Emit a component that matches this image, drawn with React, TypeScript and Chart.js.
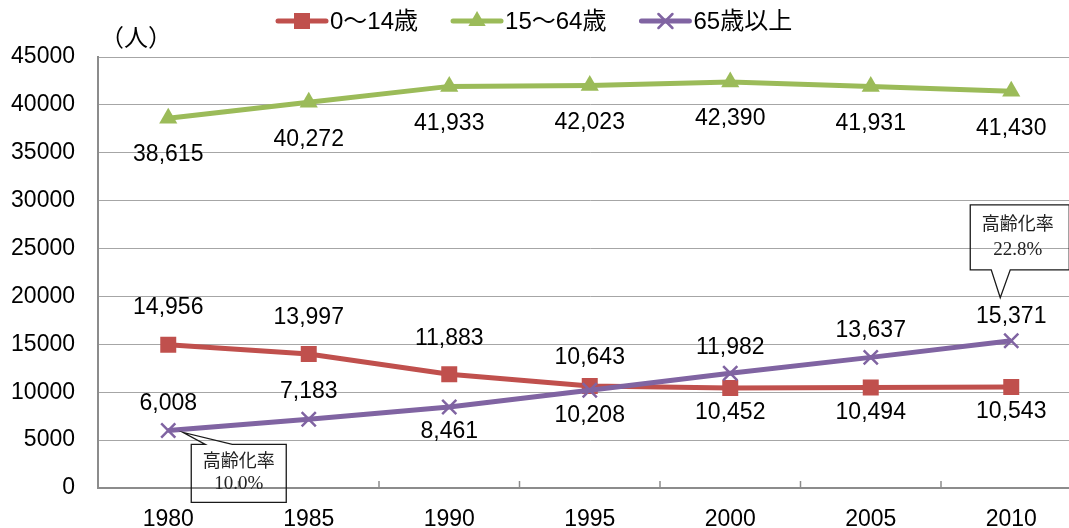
import React, { useEffect, useRef } from 'react';
import { Chart, registerables } from 'chart.js';

Chart.register(...registerables);

// ---- data ----
const years = ['1980', '1985', '1990', '1995', '2000', '2005', '2010'];
const age0to14 = [14956, 13997, 11883, 10643, 10452, 10494, 10543];
const age15to64 = [38615, 40272, 41933, 42023, 42390, 41931, 41430];
const age65plus = [6008, 7183, 8461, 10208, 11982, 13637, 15371];
const seriesNames = ['0～14歳', '15～64歳', '65歳以上'];
const yMin = 0;
const yMax = 45000;
const yStep = 5000;
const unitLabel = '（人）';
const rateTitle = '高齢化率';
const agingRates = ['10.0%', '22.8%'];

// ---- style ----
const RED = '#C0504D';
const GREEN = '#9BBB59';
const PURPLE = '#8064A2';
const NUM_FONT = '"Liberation Sans", "Noto Sans CJK JP", sans-serif';
const SERIF_FONT = '"Liberation Serif", "Noto Sans CJK JP", serif';
const labelDy = [
  [-37, -36, -36, -28, 25, 25, 25],
  [37, 37, 37, 37, 37, 37, 37],
  [-27, -28, 25, 25, -26, -27, -24],
];

const fmt = (v: number) => v.toLocaleString('en-US');

function drawMarker(ctx: CanvasRenderingContext2D, kind: string, x: number, y: number, color: string) {
  ctx.save();
  ctx.fillStyle = color;
  ctx.strokeStyle = color;
  if (kind === 'rect') {
    ctx.fillRect(x - 8, y - 8, 16, 16);
  } else if (kind === 'triangle') {
    const r = 10;
    ctx.beginPath();
    ctx.moveTo(x, y - r);
    ctx.lineTo(x + 0.866 * r, y + 0.5 * r);
    ctx.lineTo(x - 0.866 * r, y + 0.5 * r);
    ctx.closePath();
    ctx.fill();
  } else {
    const o = 7;
    ctx.lineWidth = 2.5;
    ctx.beginPath();
    ctx.moveTo(x - o, y - o);
    ctx.lineTo(x + o, y + o);
    ctx.moveTo(x + o, y - o);
    ctx.lineTo(x - o, y + o);
    ctx.stroke();
  }
  ctx.restore();
}

const overlayPlugin = {
  id: 'overlay',
  afterDatasetsDraw(chart: any) {
    const ctx: CanvasRenderingContext2D = chart.ctx;
    const area = chart.chartArea;
    const xs = chart.scales.x;

    // x-axis tick marks between categories
    ctx.save();
    ctx.strokeStyle = '#8c8c8c';
    ctx.lineWidth = 1.5;
    for (let i = 1; i < years.length; i++) {
      const bx = (xs.getPixelForValue(i - 1) + xs.getPixelForValue(i)) / 2;
      ctx.beginPath();
      ctx.moveTo(bx, area.bottom);
      ctx.lineTo(bx, area.bottom - 7);
      ctx.stroke();
    }
    ctx.restore();

    // data labels
    ctx.save();
    ctx.font = `23px ${NUM_FONT}`;
    ctx.fillStyle = '#000';
    ctx.textAlign = 'center';
    ctx.textBaseline = 'middle';
    const sets = [age0to14, age15to64, age65plus];
    sets.forEach((vals, di) => {
      const meta = chart.getDatasetMeta(di);
      vals.forEach((v, i) => {
        const pt = meta.data[i];
        ctx.fillText(fmt(v), pt.x, pt.y + labelDy[di][i]);
      });
    });
    ctx.restore();

    // legend
    const items = [
      { name: seriesNames[0], color: RED, kind: 'rect' },
      { name: seriesNames[1], color: GREEN, kind: 'triangle' },
      { name: seriesNames[2], color: PURPLE, kind: 'cross' },
    ];
    ctx.save();
    ctx.font = `24px ${NUM_FONT}`;
    ctx.textBaseline = 'middle';
    ctx.textAlign = 'left';
    let lx = 276;
    const ly = 21;
    items.forEach((it) => {
      ctx.strokeStyle = it.color;
      ctx.lineWidth = 5;
      ctx.lineCap = 'round';
      ctx.beginPath();
      ctx.moveTo(lx + 2, ly);
      ctx.lineTo(lx + 50, ly);
      ctx.stroke();
      drawMarker(ctx, it.kind, lx + 26, ly, it.color);
      ctx.fillStyle = '#000';
      ctx.fillText(it.name, lx + 54, ly + 1);
      lx += 54 + ctx.measureText(it.name).width + 33;
    });
    ctx.restore();

    // unit label
    ctx.save();
    ctx.font = `24px ${NUM_FONT}`;
    ctx.fillStyle = '#000';
    ctx.textAlign = 'center';
    ctx.textBaseline = 'middle';
    ctx.fillText(unitLabel, 136, 39);
    ctx.restore();

    // callouts
    const meta65 = chart.getDatasetMeta(2);
    const p0 = meta65.data[0];
    const pN = meta65.data[years.length - 1];
    ctx.save();
    ctx.strokeStyle = '#1a1a1a';
    ctx.lineWidth = 1.3;
    // callout 1 (pointer on top)
    {
      const bx = p0.x + 23, by = p0.y + 14, bw = 95, bh = 58;
      ctx.beginPath();
      ctx.moveTo(bx, by);
      ctx.lineTo(p0.x + 37, by);
      ctx.lineTo(p0.x + 15, p0.y + 2);
      ctx.lineTo(p0.x + 64, by);
      ctx.lineTo(bx + bw, by);
      ctx.lineTo(bx + bw, by + bh);
      ctx.lineTo(bx, by + bh);
      ctx.closePath();
      ctx.stroke();
      ctx.fillStyle = '#222';
      ctx.textAlign = 'center';
      ctx.textBaseline = 'middle';
      ctx.font = `18px ${SERIF_FONT}`;
      ctx.fillText(rateTitle, bx + bw / 2, by + 18);
      ctx.font = `19px ${SERIF_FONT}`;
      ctx.fillText(agingRates[0], bx + bw / 2, by + 40);
    }
    // callout 2 (pointer at bottom)
    {
      const bx = pN.x - 41, by = pN.y - 136, bw = 99, bh = 65;
      ctx.beginPath();
      ctx.moveTo(bx, by);
      ctx.lineTo(bx + bw, by);
      ctx.lineTo(bx + bw, by + bh);
      ctx.lineTo(pN.x - 1, by + bh);
      ctx.lineTo(pN.x - 11, pN.y - 43);
      ctx.lineTo(pN.x - 20, by + bh);
      ctx.lineTo(bx, by + bh);
      ctx.closePath();
      ctx.stroke();
      ctx.fillStyle = '#222';
      ctx.textAlign = 'center';
      ctx.textBaseline = 'middle';
      ctx.font = `18px ${SERIF_FONT}`;
      ctx.fillText(rateTitle, bx + bw / 2 - 2, by + 20);
      ctx.font = `19px ${SERIF_FONT}`;
      ctx.fillText(agingRates[1], bx + bw / 2 - 2, by + 45);
    }
    ctx.restore();
  },
};

export default function App() {
  const ref = useRef<HTMLCanvasElement | null>(null);

  useEffect(() => {
    if (!ref.current) return;
    const chart = new Chart(ref.current, {
      type: 'line',
      data: {
        labels: years,
        datasets: [
          {
            label: seriesNames[0],
            data: age0to14,
            borderColor: RED,
            backgroundColor: RED,
            borderWidth: 5,
            pointStyle: 'rect',
            pointRadius: 11.3,
            pointBorderWidth: 0,
            order: 1,
          },
          {
            label: seriesNames[1],
            data: age15to64,
            borderColor: GREEN,
            backgroundColor: GREEN,
            borderWidth: 5,
            pointStyle: 'triangle',
            pointRadius: 10.5,
            pointBorderWidth: 0,
            order: 2,
          },
          {
            label: seriesNames[2],
            data: age65plus,
            borderColor: PURPLE,
            backgroundColor: PURPLE,
            borderWidth: 5,
            pointStyle: 'crossRot',
            pointRadius: 10,
            pointBorderWidth: 2.5,
            order: 0,
          },
        ],
      },
      options: {
        responsive: false,
        animation: false,
        layout: { padding: { top: 57, right: 9, left: 0, bottom: 0 } },
        plugins: {
          legend: { display: false },
          tooltip: { enabled: false },
        },
        scales: {
          x: {
            type: 'category',
            offset: true,
            grid: { display: false, drawTicks: false },
            border: { display: true, color: '#8c8c8c', width: 2 },
            ticks: {
              color: '#000',
              font: { family: NUM_FONT, size: 23 },
              padding: 18,
              maxRotation: 0,
            },
            afterFit: (s: any) => {
              s.height = 40;
            },
          },
          y: {
            min: yMin,
            max: yMax,
            grid: { color: '#a6a6a6', lineWidth: 1, drawTicks: false },
            border: { display: true, color: '#8c8c8c', width: 2 },
            ticks: {
              stepSize: yStep,
              color: '#000',
              font: { family: NUM_FONT, size: 23 },
              padding: 23,
              callback: (v: any) => String(v),
            },
            afterFit: (s: any) => {
              s.width = 98;
            },
          },
        },
      },
      plugins: [overlayPlugin],
    });
    return () => chart.destroy();
  }, []);

  return (
    <div
      style={{
        position: 'fixed',
        left: 0,
        top: 0,
        width: 1069,
        height: 528,
        overflow: 'hidden',
        background: '#fff',
      }}
    >
      <canvas ref={ref} width={1094} height={528} style={{ display: 'block' }} />
    </div>
  );
}
